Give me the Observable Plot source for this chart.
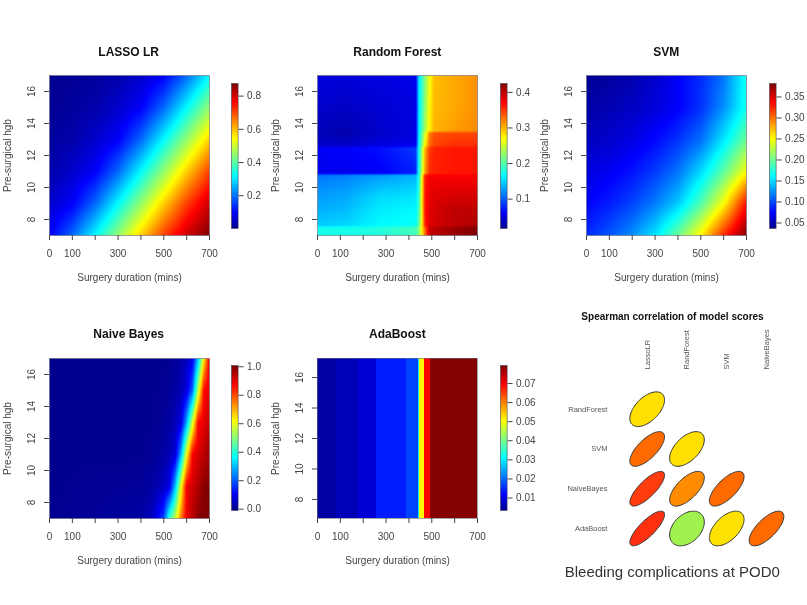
<!DOCTYPE html>
<html><head><meta charset="utf-8">
<script src="https://cdn.jsdelivr.net/npm/d3@7"></script>
<script src="https://cdn.jsdelivr.net/npm/@observablehq/plot@0.6"></script>
<style>
html,body{margin:0;padding:0;background:#fff;}
#page{position:relative;width:807px;height:605px;overflow:hidden;font-family:"Liberation Sans",sans-serif;color:#444;filter:blur(0.35px);}
#page svg{position:absolute;background:transparent;overflow:visible;}
.t{position:absolute;white-space:nowrap;transform:translate(-50%,-50%);}
.title{font-weight:bold;font-size:12px;color:#111;}
</style></head><body><div id="page"></div>
<script>
const xTicks = [0,100,200,300,400,500,600,700];
const xLabelled = [0,100,300,500,700];
const yTicks = [8,10,12,14,16];

// LASSO LR
const lassoX = [0,100,200,300,400,500,600,700];
const lassoY = [7,9,11,13,15,17];
const lassoZ = [
 [.095,.19,.32,.45,.585,.71,.81,.876],
 [.055,.095,.19,.32,.45,.585,.71,.81],
 [.027,.055,.095,.19,.32,.45,.585,.71],
 [.015,.027,.055,.095,.19,.32,.45,.585],
 [.008,.015,.027,.055,.095,.19,.32,.45],
 [.004,.008,.015,.027,.055,.095,.19,.32]];

// Random Forest
const rfX = [0,120,270,430,442,455,470,490,510,600,700];
const rfY = [7,7.45,7.65,8.5,9.5,10.75,10.9,12.45,12.65,13.4,13.55,15,17];
const rfZ = [
 [.175,.175,.18,.195,.215,.27,.33,.395,.40,.415,.425],
 [.175,.175,.18,.195,.215,.27,.33,.395,.40,.415,.425],
 [.145,.15,.165,.17,.20,.26,.36,.385,.39,.40,.405],
 [.135,.14,.16,.165,.19,.26,.365,.385,.39,.40,.40],
 [.125,.13,.15,.155,.18,.26,.365,.38,.385,.39,.39],
 [.11,.115,.125,.135,.17,.25,.36,.375,.375,.375,.375],
 [.055,.055,.06,.075,.17,.23,.31,.355,.36,.365,.365],
 [.06,.062,.068,.085,.165,.22,.30,.35,.36,.365,.365],
 [.042,.04,.05,.055,.16,.21,.27,.33,.345,.355,.355],
 [.035,.03,.042,.05,.155,.20,.25,.32,.34,.345,.345],
 [.035,.03,.042,.05,.155,.19,.235,.275,.30,.31,.318],
 [.042,.04,.045,.05,.15,.185,.225,.27,.298,.305,.315],
 [.05,.048,.05,.055,.15,.18,.22,.265,.295,.305,.315]];

// SVM
const svmX = [0,100,200,300,400,500,600,700];
const svmY = [7,9,11,13,15,17];
const svmZ = [
 [.09,.104,.125,.155,.20,.255,.325,.382],
 [.075,.085,.098,.118,.145,.19,.25,.335],
 [.063,.071,.081,.095,.115,.15,.195,.25],
 [.052,.058,.066,.077,.092,.113,.155,.20],
 [.045,.049,.055,.063,.074,.092,.125,.17],
 [.038,.042,.048,.057,.074,.09,.115,.17]];

// Naive Bayes
const nbX = [0,400,450,500,525,550,575,600,625,650,675,700];
const nbY = [7,9,11,13,15,17];
const nbZ = [
 [0,.02,.05,.18,.42,.56,.75,.89,.94,.99,1,1],
 [0,.01,.02,.05,.09,.30,.60,.89,.92,.95,.99,1],
 [0,0,.01,.02,.04,.07,.28,.61,.88,.91,.94,.97],
 [0,0,0,.01,.02,.04,.08,.28,.57,.87,.90,.93],
 [0,0,0,.005,.01,.02,.04,.08,.21,.55,.87,.90],
 [0,0,0,0,.005,.01,.02,.05,.09,.30,.63,.90]];

// AdaBoost
const adaEdges = [0,85,180,257,390,440,445,467,496,700];
const adaZ = [.005,.0065,.0088,.0141,.017,.03,.051,.07,.079];

// Spearman correlation
const corrRows = ["RandForest","SVM","NaiveBayes","AdaBoost"];
const corrCols = ["LassoLR","RandForest","SVM","NaiveBayes"];
const corrR = [
 [.535],
 [.70,.535],
 [.78,.64,.70],
 [.80,.37,.53,.70]];
const corrKeys = [.37,.535,.64,.70,.80];
const corrColors = ["#a0f24e","#ffe000","#ff8c00","#ff6a00","#ff3010"];

const stops = [0,.111,.365,.62,.873,1];
const jet = ["#00008f","#0000ff","#00ffff","#ffff00","#ff0000","#800000"];
const colorScale = ([a,b]) => ({type:"linear",domain:stops.map(t=>a+t*(b-a)),range:jet,interpolate:"rgb",clamp:true});

const page = document.getElementById("page");
function place(svg,left,top){svg.style.left=left+"px";svg.style.top=top+"px";page.appendChild(svg);}
function label(text,x,y,cls,style){const d=document.createElement("div");d.className="t "+(cls||"");d.textContent=text;d.style.left=x+"px";d.style.top=y+"px";if(style)Object.assign(d.style,style);page.appendChild(d);}

function bilinear(X,Y,Z){
  return (x,y)=>{
    const i=Math.max(0,Math.min(X.length-2,d3.bisectRight(X,x)-1));
    const j=Math.max(0,Math.min(Y.length-2,d3.bisectRight(Y,y)-1));
    const u=Math.max(0,Math.min(1,(x-X[i])/(X[i+1]-X[i])));
    const v=Math.max(0,Math.min(1,(y-Y[j])/(Y[j+1]-Y[j])));
    return (1-v)*((1-u)*Z[j][i]+u*Z[j][i+1])+v*((1-u)*Z[j+1][i]+u*Z[j+1][i+1]);
  };
}
const tickFont = {fontSize:10,fontFamily:"Liberation Sans",color:"#444"};

function panel({title,x0,y0,yDomain,dom,marks,barX,barTop,barTicks,barFmt,barDom}){
  const svg = Plot.plot({
    width:220,height:230,marginLeft:50,marginRight:10,marginTop:10,marginBottom:60,
    style:{...tickFont,background:"transparent"},
    x:{domain:[0,700]},y:{domain:yDomain},color:colorScale(dom),
    marks:[
      ...marks,
      Plot.frame({stroke:"#667",strokeWidth:.6}),
      Plot.axisX({ticks:xTicks,tickSize:5,tickPadding:9,stroke:"#444",fill:"#444",
        tickFormat:d=>xLabelled.includes(d)?d:"",label:"Surgery duration (mins)",labelAnchor:"center",labelArrow:"none",labelOffset:45}),
      Plot.axisY({ticks:yTicks,tickSize:5,tickPadding:10,tickRotate:-90,stroke:"#444",fill:"#444",
        label:"Pre-surgical hgb",labelAnchor:"center",labelArrow:"none",labelOffset:46})
    ]});
  place(svg,x0-50,y0-10);
  label(title,x0+80,y0-(y0<100?23.3:23.7),"title");
  const bar = Plot.plot({
    width:46.6,height:155,marginLeft:0,marginRight:40,marginTop:5,marginBottom:5,
    style:{...tickFont,background:"transparent"},
    x:{domain:[0,1],axis:null},y:{domain:barDom},color:colorScale(dom),
    marks:[
      Plot.raster({fill:(x,y)=>y,x1:0,x2:1,y1:barDom[0],y2:barDom[1],pixelSize:1}),
      Plot.frame({stroke:"#445",strokeWidth:.6}),
      Plot.axisY({anchor:"right",ticks:barTicks,tickFormat:barFmt,tickSize:5,tickPadding:4,label:null,stroke:"#444",fill:"#444"})
    ]});
  place(bar,barX,barTop-5);
}
const grid = (X,Y,Z)=>[Plot.raster({fill:bilinear(X,Y,Z),x1:0,x2:700,y1:Y[0],y2:Y[Y.length-1],pixelSize:1})];

panel({title:"LASSO LR",x0:48.7,y0:75.2,yDomain:[7,17],dom:[.003,.876],marks:grid(lassoX,lassoY,lassoZ),
  barX:231,barTop:82.7,barTicks:[.2,.4,.6,.8],barFmt:d3.format(".1f"),barDom:[.003,.876]});
panel({title:"Random Forest",x0:317.3,y0:75.2,yDomain:[7,17],dom:[.0175,.425],marks:grid(rfX,rfY,rfZ),
  barX:500,barTop:82.7,barTicks:[.1,.2,.3,.4],barFmt:d3.format(".1f"),barDom:[.0175,.425]});
panel({title:"SVM",x0:586.3,y0:75.2,yDomain:[7,17],dom:[.037,.382],marks:grid(svmX,svmY,svmZ),
  barX:769,barTop:82.7,barTicks:[.05,.1,.15,.2,.25,.3,.35],barFmt:d3.format(".2f"),barDom:[.037,.382]});
panel({title:"Naive Bayes",x0:48.7,y0:357.7,yDomain:[7,17],dom:[0,1],marks:grid(nbX,nbY,nbZ),
  barX:231,barTop:365.3,barTicks:[0,.2,.4,.6,.8,1],barFmt:d3.format(".1f"),barDom:[-.009,1.009]});

const adaBands = adaZ.map((z,i)=>({x1:adaEdges[i],x2:adaEdges[i+1],z}));
panel({title:"AdaBoost",x0:317.3,y0:357.7,yDomain:[6.75,17.25],dom:[.0035,.0794],
  marks:[Plot.rect(adaBands,{x1:"x1",x2:"x2",y1:()=>6.75,y2:()=>17.25,fill:"z",shapeRendering:"crispEdges"})],
  barX:500,barTop:365.3,barTicks:[.01,.02,.03,.04,.05,.06,.07],barFmt:d3.format(".2f"),barDom:[.0035,.0794]});

// Correlation ellipses
const ellipsePoints=[];
corrR.forEach((row,j)=>row.forEach((r,i)=>{
  const d=Math.acos(r);
  for(let k=0;k<96;k++){
    const t=k/96*2*Math.PI;
    ellipsePoints.push({id:j+"-"+i,r,x:i+1+.436*Math.cos(t+d/2),y:j+1-.436*Math.cos(t-d/2)});
  }
}));
const corrSvg = Plot.plot({
  width:257,height:270,margin:0,
  style:{fontFamily:"Liberation Sans",background:"transparent"},
  x:{type:"linear",domain:[1,4],range:[96.7,216],axis:null},
  y:{type:"linear",domain:[1,4],range:[108.7,228],axis:null},
  color:{type:"linear",domain:corrKeys,range:corrColors,interpolate:"rgb"},
  marks:[
    Plot.line(ellipsePoints,{x:"x",y:"y",z:"id",fill:"r",stroke:"#333",strokeWidth:1,curve:"linear-closed"}),
    Plot.text(corrRows,{x:()=>0,y:(d,i)=>i+1,text:d=>d,textAnchor:"end",fontSize:7.5,fill:"#555"}),
    Plot.text(corrCols,{x:(d,i)=>i+1,y:()=>0,text:d=>d,rotate:-90,textAnchor:"start",fontSize:7.5,fill:"#555"})
  ]});
place(corrSvg,550,300);
label("Spearman correlation of model scores",672.5,315.7,"title",{fontSize:"10px"});
label("Bleeding complications at POD0",672.3,570.7,"",{fontSize:"15px",color:"#333"});
</script></body></html>
